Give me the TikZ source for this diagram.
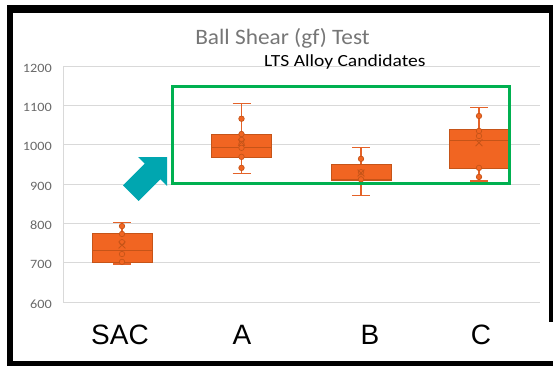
\documentclass[tikz,border=0pt]{standalone}
\usepackage{fontspec}
\setmainfont{Carlito}
\newfontfamily\arialf{Liberation Sans}
\usetikzlibrary{shapes.misc}
\definecolor{boxor}{RGB}{241,101,34}
\definecolor{boxdk}{RGB}{198,84,24}
\definecolor{whk}{RGB}{228,98,40}
\definecolor{gridc}{RGB}{217,217,217}
\definecolor{labg}{RGB}{105,105,105}
\definecolor{titg}{RGB}{118,118,118}
\definecolor{grn}{RGB}{0,176,80}
\definecolor{teal}{RGB}{0,166,176}
\tikzset{
  gridl/.style={draw=gridc, line width=0.9pt},
  whisk/.style={draw=whk, line width=1.3pt},
  boxs/.style={fill=boxor, draw=boxdk, line width=0.5pt},
  medl/.style={draw=boxdk, line width=0.8pt},
  dot/.style={circle, inner sep=0pt, minimum size=5.5pt, fill=boxor, draw=boxdk, line width=0.7pt},
  xm/.style={cross out, inner sep=0pt, minimum size=6pt, draw=boxdk, line width=0.8pt},
  ylab/.style={anchor=base east, text=labg, font=\fontsize{12.7}{14}\selectfont, inner sep=0pt},
  catlab/.style={anchor=base, font=\arialf\fontsize{28}{32}\selectfont, inner sep=0pt},
}
\newcommand\mybox[6]{%
  \draw[whisk] (#1,{Y(#2)}) -- (#1,{Y(#3)}) (#1,{Y(#5)}) -- (#1,{Y(#6)});
  \draw[whisk] (#1-9,{Y(#2)}) -- (#1+9,{Y(#2)}) (#1-9,{Y(#6)}) -- (#1+9,{Y(#6)});
  \filldraw[boxs] (#1-30,{Y(#3)}) rectangle (#1+30,{Y(#5)});
  \draw[medl] (#1-30,{Y(#4)}) -- (#1+30,{Y(#4)});
}
\newcommand\mypts[2]{\foreach \v in {#2} {\node[dot] at (#1,{Y(\v)}) {};}}
\begin{document}
\begin{tikzpicture}[x=1pt,y=-1pt, declare function={Y(\v)=302-(\v-600)*0.3933;}]
\useasboundingbox (0,0) rectangle (553,366);
% frame
\fill[black] (7,5) rectangle (553,13);
\fill[black] (7,5) rectangle (13,366);
\fill[black] (7,361) rectangle (553,366);
\fill[black] (549,5) rectangle (553,322);
% grid
\foreach \g in {600,700,...,1200} {\draw[gridl] (63,{Y(\g)}) -- (540,{Y(\g)});}
\draw[gridl] (63,{Y(1200)}) -- (63,{Y(600)});
% y labels
\foreach \g in {600,700,...,1200} {\node[ylab] (yl\g) at (52,{Y(\g)+6}) {\scalebox{1.12}[1]{\g}};}
% title
\node[anchor=base, text=titg, font=\fontsize{22}{26}\selectfont, inner sep=0pt] (title) at (282.5,45) {\scalebox{1.06}[1]{Ball Shear (gf) Test}};
\node[anchor=base west, font=\fontsize{17}{20}\selectfont, inner sep=0pt] (lts) at (264,67) {\scalebox{1.15}[1]{LTS Alloy Candidates}};
% boxes
\mybox{122}{697}{702}{732}{775}{803}
\mypts{122}{793,773,752,722,702}
\node[xm] at (122,{Y(745)}) {};
\mybox{241.5}{926}{969}{992}{1027}{1104}
\mypts{241.5}{1066,1027,1012,1002,992,969,941}
\node[xm] at (241.5,{Y(1006)}) {};
\mybox{361}{870}{910}{912}{951}{992}
\mypts{361}{964,930,912}
\node[xm] at (361,{Y(928)}) {};
\mybox{479}{908}{941}{1010}{1040}{1094}
\mypts{479}{1073,1035,1022,941,918}
\node[xm] at (479,{Y(1005)}) {};
% category labels
\node[catlab] (cSAC) at (120,344) {SAC};
\node[catlab] (cA) at (242,344) {A};
\node[catlab] (cB) at (370,344) {B};
\node[catlab] (cC) at (481,344) {C};
% green box
\draw[grn, line width=3pt] (172,87) rectangle (509,183);
% arrow
\fill[teal] (167,157) -- (138,157) -- (144.7,163.7) -- (123,185.4) -- (138.6,201) -- (160.3,179.3) -- (167,186) -- cycle;
\end{tikzpicture}
\end{document}
